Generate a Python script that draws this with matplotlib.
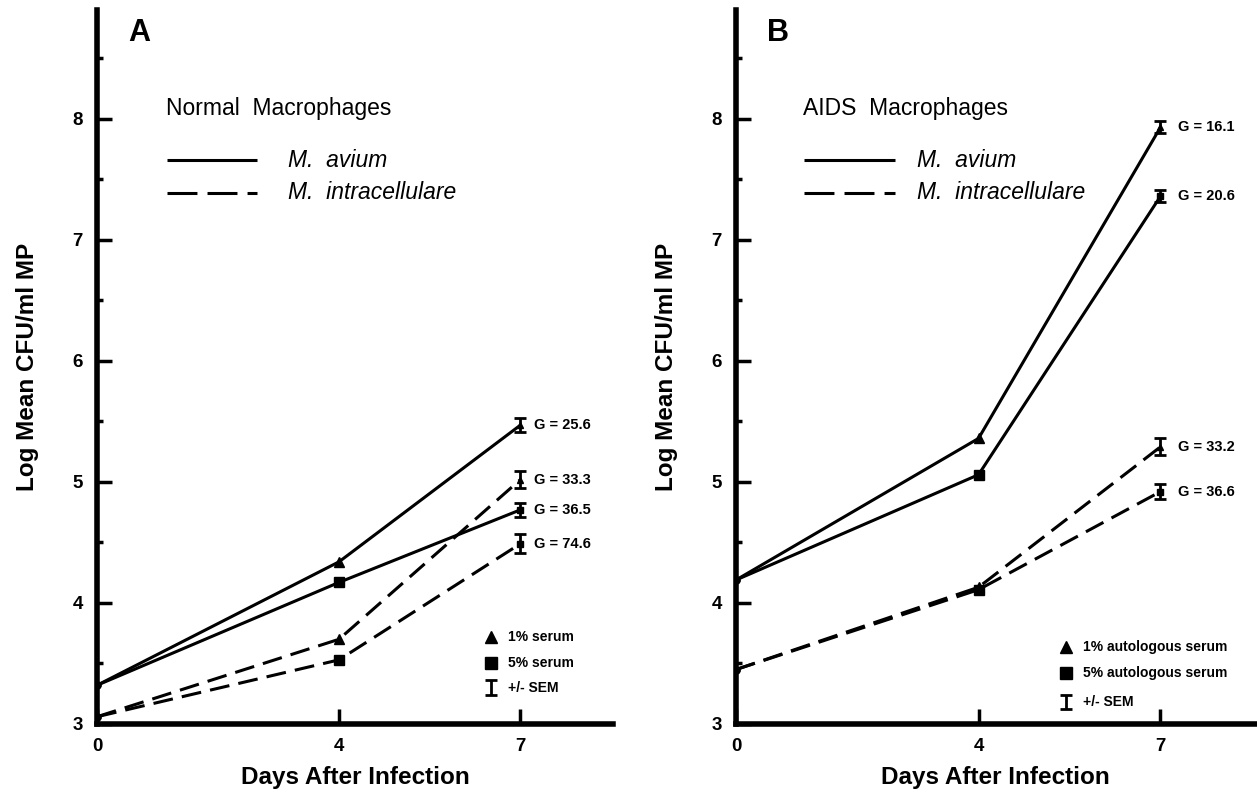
import matplotlib
matplotlib.use("Agg")
import matplotlib.pyplot as plt
from matplotlib.ticker import FixedLocator

plt.rcParams['font.family'] = ['Liberation Sans', 'DejaVu Sans']

# ---------------- data ----------------
days = [0, 4, 7]

# Panel A: normal macrophages
A_avium_1 = [3.32, 4.34, 5.47]
A_avium_5 = [3.32, 4.17, 4.77]
A_intra_1 = [3.06, 3.70, 5.02]
A_intra_5 = [3.06, 3.53, 4.49]
A_sem = [0.06, 0.06, 0.07, 0.08]          # avium1, avium5, intra1, intra5 at day 7
A_G = ["G = 25.6", "G = 36.5", "G = 33.3", "G = 74.6"]

# Panel B: AIDS macrophages
B_avium_1 = [4.19, 5.36, 7.93]
B_avium_5 = [4.19, 5.06, 7.36]
B_intra_1 = [3.45, 4.13, 5.29]
B_intra_5 = [3.45, 4.11, 4.92]
B_sem = [0.05, 0.05, 0.07, 0.06]
B_G = ["G = 16.1", "G = 20.6", "G = 33.2", "G = 36.6"]

yticks = [3, 4, 5, 6, 7, 8]
yminor = [3.5, 4.5, 5.5, 6.5, 7.5, 8.5]
xticks = [0, 4, 7]

ylabel = "Log Mean CFU/ml MP"
xlabel = "Days After Infection"

DASH = (0, (6.5, 3))
LW = 2.2

fig = plt.figure(figsize=(12.57, 7.99), dpi=100)
axA = fig.add_axes([97/1257, 75/799, 516/1257, 714/799])
axB = fig.add_axes([736/1257, 75/799, 519/1257, 714/799])


def style(ax, xmax):
    ax.set_xlim(0, xmax)
    ax.set_ylim(3, 8.9)
    for s in ['top', 'right']:
        ax.spines[s].set_visible(False)
    for s in ['left', 'bottom']:
        ax.spines[s].set_linewidth(4)
    ax.set_yticks(yticks)
    ax.set_yticklabels([str(v) for v in yticks])
    ax.yaxis.set_minor_locator(FixedLocator(yminor))
    ax.set_xticks(xticks)
    ax.set_xticklabels([str(v) for v in xticks])
    ax.tick_params(axis='both', which='major', direction='in', length=11,
                   width=2.5, labelsize=13.5, pad=10)
    ax.tick_params(axis='y', which='minor', direction='in', length=4, width=2.5)
    for lab in ax.get_xticklabels() + ax.get_yticklabels():
        lab.set_fontweight('bold')
    ax.set_ylabel(ylabel, fontsize=17.5, fontweight='bold', labelpad=24)
    ax.set_xlabel(xlabel, fontsize=17.5, fontweight='bold', labelpad=8)


def series(ax, vals, ls, marker, sem, glabel, gx):
    ax.plot(days, vals, color='k', lw=LW, ls=ls, solid_capstyle='butt')
    ax.plot(days[:1], vals[:1], 'o', color='k', ms=5)
    ax.plot(days[1:2], vals[1:2], marker, color='k', ms=6.5, ls='none')
    ax.plot(days[2:], vals[2:], marker, color='k', ms=4, ls='none')
    ax.errorbar(days[2:], vals[2:], yerr=sem, fmt='none', ecolor='k',
                elinewidth=2, capsize=4.5, capthick=2)
    ax.text(gx, vals[2], glabel, fontsize=10.5, fontweight='bold',
            va='center', ha='left')


def line_legend(ax, title, x0, x1, xt):
    ax.text(x0 - 0.02, 8.03, title, fontsize=16.5, va='baseline', ha='left')
    ax.plot([x0, x1], [7.66, 7.66], color='k', lw=LW, solid_capstyle='butt')
    ax.plot([x0, x1], [7.39, 7.39], color='k', lw=LW, ls=(0, (9.8, 3.3)))
    ax.text(xt, 7.66, "M.  avium", fontsize=16.5, style='italic', va='center')
    ax.text(xt, 7.39, "M.  intracellulare", fontsize=16.5, style='italic', va='center')


def marker_legend(ax, xm, xt, ys, labels):
    ax.plot([xm], [ys[0]], '^', color='k', ms=9)
    ax.plot([xm], [ys[1]], 's', color='k', ms=8)
    ax.errorbar([xm], [ys[2]], yerr=0.06, fmt='none', ecolor='k',
                elinewidth=2, capsize=4, capthick=2)
    for y, t in zip(ys, labels):
        ax.text(xt, y, t, fontsize=10, fontweight='bold', va='center', ha='left')


# ---------------- Panel A ----------------
style(axA, 8.53)
series(axA, A_avium_1, '-', '^', A_sem[0], A_G[0], 7.22)
series(axA, A_avium_5, '-', 's', A_sem[1], A_G[1], 7.22)
series(axA, A_intra_1, DASH, '^', A_sem[2], A_G[2], 7.22)
series(axA, A_intra_5, DASH, 's', A_sem[3], A_G[3], 7.22)
axA.text(0.51, 8.83, "A", fontsize=22, fontweight='bold', va='top', ha='left')
line_legend(axA, "Normal  Macrophages", 1.16, 2.65, 3.15)
marker_legend(axA, 6.51, 6.79, [3.72, 3.50, 3.30],
              ["1% serum", "5% serum", "+/- SEM"])

# ---------------- Panel B ----------------
style(axB, 8.56)
series(axB, B_avium_1, '-', '^', B_sem[0], B_G[0], 7.29)
series(axB, B_avium_5, '-', 's', B_sem[1], B_G[1], 7.29)
series(axB, B_intra_1, DASH, '^', B_sem[2], B_G[2], 7.29)
series(axB, B_intra_5, DASH, 's', B_sem[3], B_G[3], 7.29)
axB.text(0.51, 8.83, "B", fontsize=22, fontweight='bold', va='top', ha='left')
line_legend(axB, "AIDS  Macrophages", 1.12, 2.62, 2.99)
marker_legend(axB, 5.45, 5.73, [3.64, 3.42, 3.18],
              ["1% autologous serum", "5% autologous serum", "+/- SEM"])

fig.savefig("out.png", dpi=100, facecolor='white')
